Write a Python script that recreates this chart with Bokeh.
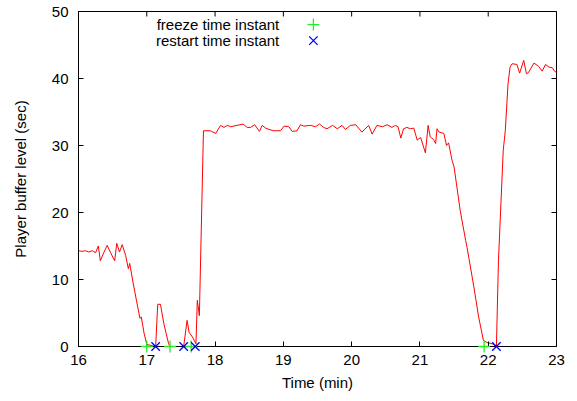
import math
from bokeh.plotting import figure
from bokeh.models import Range1d, FixedTicker, Label
from bokeh.embed import file_html
from bokeh.resources import INLINE

time_min = [16.00, 16.05, 16.10, 16.15, 16.20, 16.25, 16.29, 16.32, 16.37, 16.42,
            16.47, 16.53, 16.56, 16.60, 16.64, 16.69, 16.73, 16.75, 16.80, 16.85,
            16.90, 16.92, 16.96, 17.00, 17.13, 17.16, 17.20, 17.25, 17.28, 17.32,
            17.34, 17.54, 17.59, 17.62, 17.67, 17.72, 17.74, 17.77, 17.83, 17.93,
            18.01, 18.08, 18.13, 18.18, 18.23, 18.32, 18.41, 18.47, 18.52, 18.58,
            18.65, 18.69, 18.74, 18.79, 18.86, 18.96, 19.01, 19.08, 19.13, 19.20,
            19.25, 19.30, 19.40, 19.47, 19.53, 19.59, 19.64, 19.72, 19.79, 19.86,
            19.91, 19.98, 20.06, 20.15, 20.25, 20.30, 20.37, 20.45, 20.52, 20.59,
            20.64, 20.68, 20.72, 20.76, 20.81, 20.86, 20.91, 20.96, 21.01, 21.08,
            21.12, 21.15, 21.20, 21.23, 21.25, 21.28, 21.35, 21.39, 21.42, 21.47,
            21.50, 21.59, 21.67, 21.69, 21.79, 21.86, 21.93, 21.98, 22.06, 22.12,
            22.15, 22.22, 22.25, 22.29, 22.32, 22.35, 22.42, 22.46, 22.52, 22.56,
            22.59, 22.67, 22.74, 22.79, 22.84, 22.89, 22.94, 22.97, 23.00]
buffer_sec = [14.3, 14.2, 14.3, 14.1, 14.3, 14.0, 15.0, 12.8, 14.0, 15.1,
              14.0, 12.8, 15.4, 14.1, 15.2, 13.6, 11.6, 12.4, 9.5, 6.8,
              4.2, 4.4, 2.0, 0.3, 0.0, 6.3, 6.3, 3.4, 2.1, 0.4,
              0.0, 0.0, 3.9, 2.1, 1.4, 0.4, 6.9, 4.6, 32.2, 32.2,
              31.8, 33.0, 32.7, 33.0, 32.8, 33.0, 33.2, 32.7, 32.7, 33.1,
              32.1, 33.0, 32.6, 32.4, 32.2, 32.2, 32.9, 32.8, 32.1, 32.2,
              33.1, 32.9, 33.0, 32.8, 33.2, 32.7, 32.5, 33.0, 32.5, 33.0,
              32.4, 33.0, 33.1, 32.0, 33.0, 31.7, 33.0, 32.8, 33.1, 32.7,
              33.0, 32.8, 31.1, 32.5, 32.7, 32.5, 32.6, 30.8, 31.2, 28.9,
              33.0, 31.3, 30.9, 30.3, 32.5, 32.0, 31.8, 30.0, 30.4, 27.8,
              26.8, 20.3, 15.8, 14.8, 8.9, 4.4, 0.9, 0.6, 0.4, 0.0,
              12.8, 29.3, 32.2, 39.2, 41.7, 42.2, 42.1, 40.8, 42.7, 40.7,
              40.9, 42.3, 41.8, 41.1, 42.1, 41.7, 41.6, 41.1, 40.9]

freeze_t = [17.00, 17.34, 17.65, 21.94]
restart_t = [17.13, 17.54, 17.71, 22.12]
x_ticks = [16, 17, 18, 19, 20, 21, 22, 23]
y_ticks = [0, 10, 20, 30, 40, 50]
legend_labels = ["freeze time instant", "restart time instant"]

FONT = "Liberation Sans"
GREEN = "#22ee22"
BLUE = "#0000ff"
X0, X1, Y0, Y1 = 16, 23, 0, 50

p = figure(width=569, height=393, output_backend="svg", toolbar_location=None,
           x_range=Range1d(X0, X1), y_range=Range1d(Y0, Y1),
           min_border_left=78, min_border_right=13, min_border_top=11,
           min_border_bottom=47)
p.outline_line_color = "black"
p.outline_line_width = 1
p.grid.visible = False
p.background_fill_color = "white"
p.border_fill_color = "white"

# mirrored inward ticks on top and right edges (half of each dash is clipped by the frame)
p.scatter(x_ticks, [Y1] * len(x_ticks), marker="dash", size=10, angle=math.pi / 2,
          line_color="black", line_width=1)
p.scatter([X1] * len(y_ticks), y_ticks, marker="dash", size=10,
          line_color="black", line_width=1)

p.line(time_min, buffer_sec, line_color="red", line_width=1)
p.scatter(freeze_t, [0] * len(freeze_t), marker="cross", size=12,
          line_color=GREEN, line_width=1.3, level="overlay")
p.scatter(restart_t, [0] * len(restart_t), marker="x", size=12,
          line_color=BLUE, line_width=1.3, level="overlay")

# legend (gnuplot style: text on left, marker on right)
leg_x_mark = 19.44
leg_x_text = 18.94
leg_y = [48.05, 45.65]
p.scatter([leg_x_mark], [leg_y[0]], marker="cross", size=12, line_color=GREEN, line_width=1.3)
p.scatter([leg_x_mark], [leg_y[1]], marker="x", size=12, line_color=BLUE, line_width=1.3)
for lab, yy in zip(legend_labels, leg_y):
    p.add_layout(Label(x=leg_x_text, y=yy, text=lab, text_align="right",
                       text_baseline="middle", text_font=FONT,
                       text_font_size="15px", text_color="black"))

for ax in [p.xaxis[0], p.yaxis[0]]:
    ax.axis_line_color = "black"
    ax.major_tick_in = 5
    ax.major_tick_out = 0
    ax.minor_tick_in = 0
    ax.minor_tick_out = 0
    ax.major_tick_line_color = "black"
    ax.major_label_text_font = FONT
    ax.major_label_text_font_size = "15px"
    ax.major_label_text_color = "black"
    ax.axis_label_text_font = FONT
    ax.axis_label_text_font_size = "15px"
    ax.axis_label_text_font_style = "normal"
    ax.axis_label_text_color = "black"

p.xaxis.ticker = FixedTicker(ticks=x_ticks)
p.yaxis.ticker = FixedTicker(ticks=y_ticks)
p.xaxis.axis_label = "Time (min)"
p.yaxis.axis_label = "Player buffer level (sec)"
p.xaxis.major_label_standoff = 8
p.yaxis.major_label_standoff = 10
p.xaxis.axis_label_standoff = 6
p.yaxis.axis_label_standoff = 20

open("out.html", "w").write(file_html(p, INLINE))
